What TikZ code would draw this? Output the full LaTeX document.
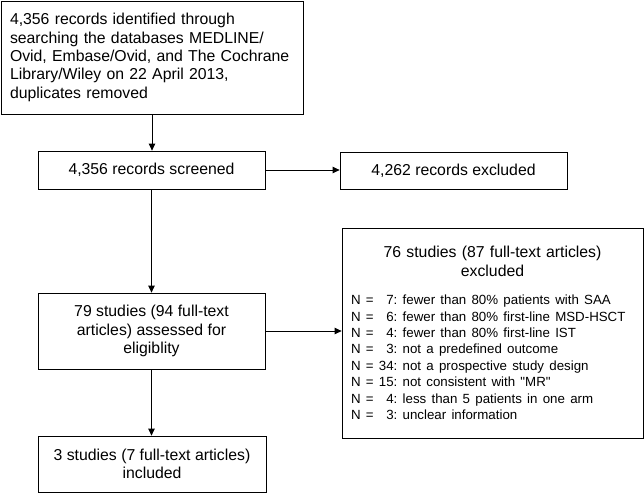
\documentclass[tikz,border=0pt]{standalone}
\usepackage{fontspec}
\setmainfont{Liberation Sans}
\usetikzlibrary{arrows.meta,positioning}

\tikzset{
  box/.style={draw=black, line width=0.8pt, inner xsep=9pt, inner ysep=4pt,
    font=\fontsize{15.8}{18.4}\selectfont\frenchspacing},
  flow/.style={-{Triangle[length=7pt,width=6.5pt]}, line width=0.8pt}
}

\begin{document}
\begin{tikzpicture}[x=1pt,y=-1pt]
    \useasboundingbox (0,0) rectangle (644,493);
    % Draw the main column
    \node[box, text width=284pt, minimum height=113pt, align=left] (ident) at (152,57.5)
      {4,356 records identified through\\
       searching the databases MEDLINE/\\
       Ovid, Embase/Ovid, and The Cochrane\\
       Library/Wiley on 22 April 2013,\\
       duplicates removed};
    \node[box, minimum width=227pt, minimum height=38pt, align=center] (screen) at (151.5,170)
      {4,356 records screened};
    \node[box, minimum width=227pt, minimum height=76pt, align=center] (assess) at (151.5,331)
      {79 studies (94 full-text\\ articles) assessed for\\ eligiblity};
    \node[box, minimum width=228pt, minimum height=56pt, align=center] (incl) at (152,464)
      {3 studies (7 full-text articles)\\ included};
    % Draw the exclusions
    \node[box, minimum width=227pt, minimum height=37pt, align=center] (recexcl) at (453.5,170.5)
      {4,262 records excluded};
    \node[box, text width=283pt, minimum height=210pt, align=left] (studexcl) at (492.5,333)
      {{\centering 76 studies (87 full-text articles)\\ excluded\par}
       \vspace{12pt}
       {\fontsize{13.3}{16.4}\selectfont
       N = \hphantom{0}7: fewer than 80\% patients with SAA\\
       N = \hphantom{0}6: fewer than 80\% first-line MSD-HSCT\\
       N = \hphantom{0}4: fewer than 80\% first-line IST\\
       N = \hphantom{0}3: not a predefined outcome\\
       N = 34: not a prospective study design\\
       N = 15: not consistent with \textquotedbl MR\textquotedbl\\
       N = \hphantom{0}4: less than 5 patients in one arm\\
       N = \hphantom{0}3: unclear information\par}};
    % arrows
    \draw[flow] (ident.south) -- (ident.south |- screen.north);
    \draw[flow] (screen.south) -- (screen.south |- assess.north);
    \draw[flow] (assess.south) -- (assess.south |- incl.north);
    \draw[flow] (screen.east) -- (screen.east -| recexcl.west);
    \draw[flow] (assess.east) -- (assess.east -| studexcl.west);
\end{tikzpicture}
\end{document}
